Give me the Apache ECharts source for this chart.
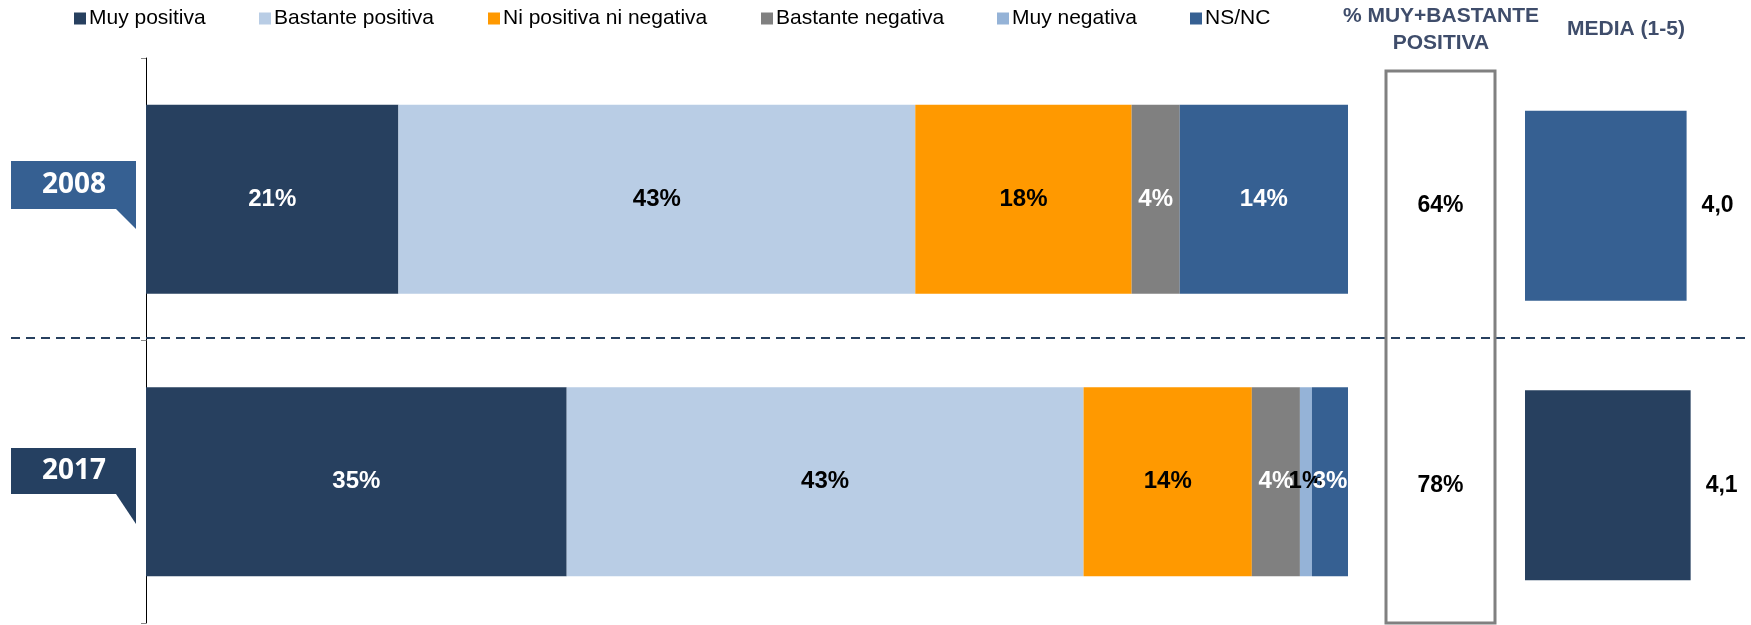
<!DOCTYPE html>
<html>
<head>
<meta charset="UTF-8">
<title>Valoración 2008 - 2017</title>
<script src="https://cdn.jsdelivr.net/npm/echarts@6/dist/echarts.min.js"></script>
<style>
html, body { margin:0; padding:0; background:#fff; }
#chart { width:1751px; height:625px; }
</style>
</head>
<body>
<div id="chart"></div>
<script>
// datos
var years = ['2008', '2017'];
var muyPositiva = [21, 35];
var bastantePositiva = [43, 43];
var niPositivaNiNegativa = [18, 14];
var bastanteNegativa = [4, 4];
var muyNegativa = [0, 1];
var nsnc = [14, 3];
var muyMasBastante = [64, 78];
var media = [4.0, 4.1];

var seriesNames = ['Muy positiva', 'Bastante positiva', 'Ni positiva ni negativa', 'Bastante negativa', 'Muy negativa', 'NS/NC'];
var seriesData = [muyPositiva, bastantePositiva, niPositivaNiNegativa, bastanteNegativa, muyNegativa, nsnc];

// estilos
var colores = ['#27405f', '#b9cde5', '#ff9900', '#808080', '#95b3d7', '#366092'];
var colorTexto = ['#fff', '#000', '#000', '#fff', '#000', '#fff'];
var coloresMedia = ['#366092', '#27405f'];
var legendLeft = [74, 259, 488, 761, 997, 1190];
var fuente = 'Liberation Sans, Arial, sans-serif';
var azulTitulo = '#3f4d6b';

var chart = echarts.init(document.getElementById('chart'));

//barras apiladas
var series = seriesNames.map(function (n, i) {
	return {
		name: n,
		type: 'bar',
		stack: 'total',
		xAxisIndex: 0,
		yAxisIndex: 0,
		barWidth: 189,
		data: seriesData[i],
		itemStyle: { color: colores[i] },
		label: {
			show: true,
			position: 'inside',
			color: colorTexto[i],
			fontSize: 24,
			fontWeight: 'bold',
			fontFamily: fuente,
			formatter: function (p) { return p.value ? p.value + '%' : ''; }
		}
	};
});

//media (1-5)
series.push({
	name: 'Media',
	type: 'bar',
	xAxisIndex: 1,
	yAxisIndex: 1,
	barWidth: 190,
	data: media.map(function (v, i) {
		return { value: v, itemStyle: { color: coloresMedia[i] } };
	}),
	label: {
		show: true,
		position: 'right',
		distance: 15,
		color: '#000',
		fontSize: 23,
		fontWeight: 'bold',
		fontFamily: fuente,
		formatter: function (p) { return p.value.toFixed(1).replace('.', ','); }
	}
});

// % muy + bastante positiva (scatter tiene opacidad 0.8 por defecto)
series.push({
	name: 'MuyBastante',
	type: 'scatter',
	xAxisIndex: 2,
	yAxisIndex: 2,
	symbolSize: 0,
	itemStyle: { color: '#000', opacity: 1 },
	data: muyMasBastante.map(function (v, i) { return [0.5, years[i], v]; }),
	label: {
		show: true,
		position: 'inside',
		color: '#000',
		opacity: 1,
		fontSize: 23,
		fontWeight: 'bold',
		fontFamily: fuente,
		formatter: function (p) { return p.value[2] + '%'; }
	}
});

//leyenda: una por item
var legends = seriesNames.map(function (n, i) {
	return {
		data: [n],
		left: legendLeft[i],
		top: 8,
		padding: 0,
		itemWidth: 12,
		itemHeight: 12,
		icon: 'rect',
		selectedMode: false,
		textStyle: { fontSize: 21, color: '#000', fontFamily: fuente, padding: [0, 0, 0, -2] }
	};
});

function tag(label, top, h, tail, color) {
	return {
		type: 'group',
		children: [
			{ type: 'rect', shape: { x: 11, y: top, width: 125, height: h }, style: { fill: color } },
			{ type: 'polygon', shape: { points: [[116, top + h], [136, top + h], [136, top + h + tail]] }, style: { fill: color } },
			{ type: 'text', style: { text: label, x: 74, y: top + h / 2, textAlign: 'center', textVerticalAlign: 'middle',
				fill: '#fff', font: 'bold 28px "Open Sans", sans-serif' } }
		]
	};
}

var option = {
	animation: false,
	legend: legends,
	grid: [
		{ left: 146, top: 58, width: 1202, height: 565 },
		{ left: 1525, top: 66, width: 202, height: 566 },
		{ left: 1386, top: 66, width: 109, height: 566 }
	],
	xAxis: [
		{ type: 'value', gridIndex: 0, min: 0, max: 100, show: false },
		{ type: 'value', gridIndex: 1, min: 0, max: 5, show: false },
		{ type: 'value', gridIndex: 2, min: 0, max: 1, show: false }
	],
	yAxis: [
		{
			type: 'category', gridIndex: 0, data: years, inverse: true,
			axisLine: { show: true, lineStyle: { color: '#000', width: 1 } },
			axisTick: { show: true, length: 5, lineStyle: { color: '#888' } },
			axisLabel: { show: false },
			splitLine: { show: false }
		},
		{ type: 'category', gridIndex: 1, data: years, inverse: true, show: false },
		{ type: 'category', gridIndex: 2, data: years, inverse: true, show: false }
	],
	graphic: [
		{ type: 'line', z: 1, shape: { x1: 11, y1: 338, x2: 1751, y2: 338 },
			style: { stroke: '#27405f', lineWidth: 2, lineDash: [9, 6] } },
		{ type: 'rect', z: 2, shape: { x: 1386, y: 71, width: 109, height: 552 },
			style: { fill: null, stroke: '#808080', lineWidth: 3 } },
		{ type: 'text', style: { text: '% MUY+BASTANTE', x: 1441, y: 16, textAlign: 'center', textVerticalAlign: 'middle',
			fill: azulTitulo, font: 'bold 21px ' + fuente } },
		{ type: 'text', style: { text: 'POSITIVA', x: 1441, y: 43, textAlign: 'center', textVerticalAlign: 'middle',
			fill: azulTitulo, font: 'bold 21px ' + fuente } },
		{ type: 'text', style: { text: 'MEDIA (1-5)', x: 1626, y: 29, textAlign: 'center', textVerticalAlign: 'middle',
			fill: azulTitulo, font: 'bold 21px ' + fuente } },
		tag(years[0], 161, 48, 20, '#366092'),
		tag(years[1], 448, 46, 30, '#254061')
	],
	series: series
};

chart.setOption(option);
</script>
</body>
</html>
